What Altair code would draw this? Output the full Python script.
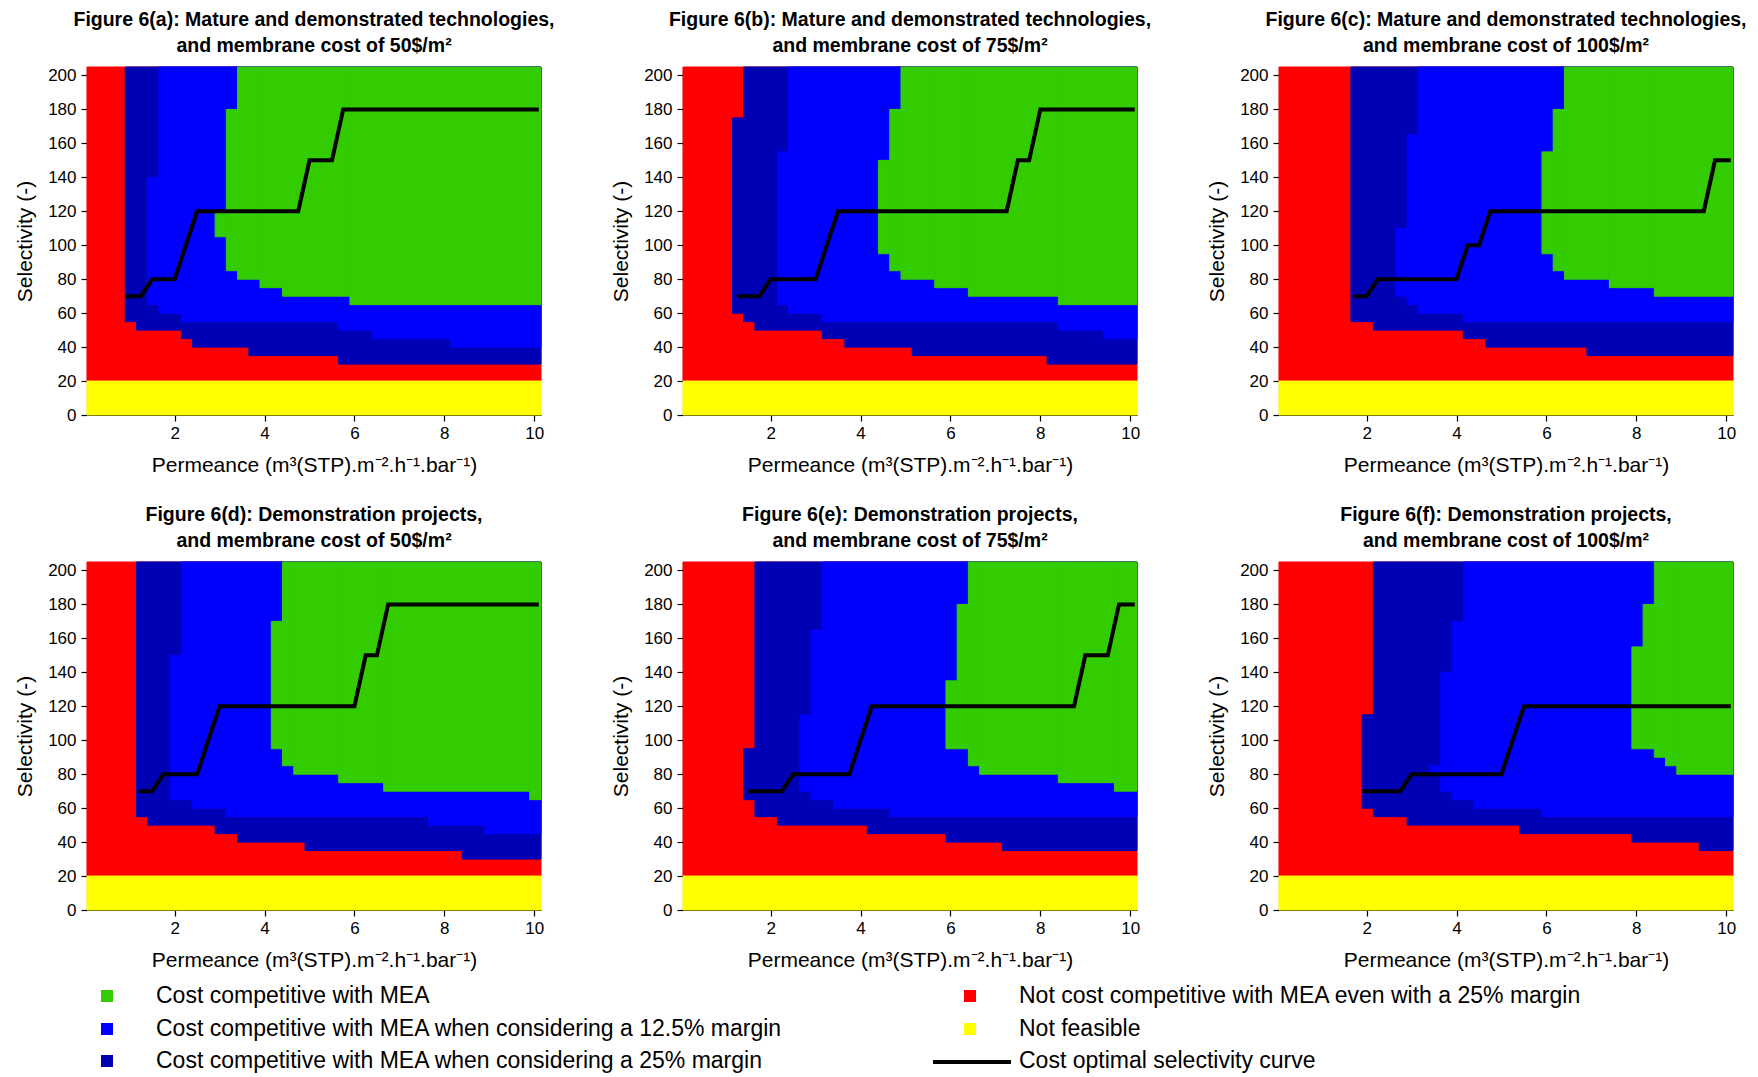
import altair as alt
import pandas as pd

# ---------------- axis ranges & colours ----------------
X_MIN, X_MAX = 0.05, 10.15
Y_MIN, Y_MAX = 0, 205
FEASIBLE_LIMIT = 20
X_TICKS = [2, 4, 6, 8, 10]
Y_TICKS = list(range(0, 201, 20))

RED = "#FF0000"
YELLOW = "#FFFF00"
DARK = "#0000B4"
BLUE = "#0000FF"
GREEN = "#33CC00"

# ---------------- panel titles ----------------
titles = {
    "a": ["Figure 6(a): Mature and demonstrated technologies,", "and membrane cost of 50$/m\u00b2"],
    "b": ["Figure 6(b): Mature and demonstrated technologies,", "and membrane cost of 75$/m\u00b2"],
    "c": ["Figure 6(c): Mature and demonstrated technologies,", "and membrane cost of 100$/m\u00b2"],
    "d": ["Figure 6(d): Demonstration projects,", "and membrane cost of 50$/m\u00b2"],
    "e": ["Figure 6(e): Demonstration projects,", "and membrane cost of 75$/m\u00b2"],
    "f": ["Figure 6(f): Demonstration projects,", "and membrane cost of 100$/m\u00b2"],
}

# Region boundaries: column edges (permeance), lower and upper selectivity of each column block.
# "dark" = everything that is not red (dark blue and better), "blue" = blue and better, "green".
a_dark_x = [0.90, 1.15, 2.15, 2.40, 3.65, 5.65, 10.15]
a_dark_lo = [55, 50, 45, 40, 35, 30]
a_dark_hi = [205, 205, 205, 205, 205, 205]
a_blue_x = [1.40, 1.65, 2.15, 5.65, 6.40, 8.15, 10.15]
a_blue_lo = [65, 60, 55, 50, 45, 40]
a_blue_hi = [140, 205, 205, 205, 205, 205]
a_green_x = [2.90, 3.15, 3.40, 3.90, 4.40, 5.90, 10.15]
a_green_lo = [105, 85, 80, 75, 70, 65]
a_green_hi = [120, 180, 205, 205, 205, 205]
a_line_x = [0.90, 1.25, 1.5, 2.0, 2.25, 2.5, 4.75, 5.0, 5.5, 5.75, 10.1]
a_line_y = [70, 70, 80, 80, 100, 120, 120, 150, 150, 180, 180]

b_dark_x = [1.15, 1.40, 1.65, 3.15, 3.65, 5.15, 8.15, 10.15]
b_dark_lo = [60, 55, 50, 45, 40, 35, 30]
b_dark_hi = [175, 205, 205, 205, 205, 205, 205]
b_blue_x = [2.15, 2.40, 3.15, 8.40, 9.40, 10.15]
b_blue_lo = [65, 60, 55, 50, 45]
b_blue_hi = [155, 205, 205, 205, 205]
b_green_x = [4.40, 4.65, 4.90, 5.65, 6.40, 8.40, 10.15]
b_green_lo = [95, 85, 80, 75, 70, 65]
b_green_hi = [150, 180, 205, 205, 205, 205]
b_line_x = [1.25, 1.75, 2.0, 3.0, 3.25, 3.5, 7.25, 7.5, 7.75, 8.0, 10.1]
b_line_y = [70, 70, 80, 80, 100, 120, 120, 150, 150, 180, 180]

c_dark_x = [1.65, 2.15, 4.15, 4.65, 6.90, 10.15]
c_dark_lo = [55, 50, 45, 40, 35]
c_dark_hi = [205, 205, 205, 205, 205]
c_blue_x = [2.65, 2.90, 3.15, 4.15, 10.15]
c_blue_lo = [70, 65, 60, 55]
c_blue_hi = [110, 165, 205, 205]
c_green_x = [5.90, 6.15, 6.40, 7.40, 8.40, 10.15]
c_green_lo = [95, 85, 80, 75, 70]
c_green_hi = [155, 180, 205, 205, 205]
c_line_x = [1.7, 2.0, 2.25, 4.0, 4.25, 4.5, 4.75, 9.5, 9.75, 10.1]
c_line_y = [70, 70, 80, 80, 100, 100, 120, 120, 150, 150]

d_dark_x = [1.15, 1.40, 2.90, 3.40, 4.90, 8.40, 10.15]
d_dark_lo = [55, 50, 45, 40, 35, 30]
d_dark_hi = [205, 205, 205, 205, 205, 205]
d_blue_x = [1.90, 2.15, 2.40, 3.15, 7.65, 8.90, 10.15]
d_blue_lo = [65, 65, 60, 55, 50, 45]
d_blue_hi = [150, 205, 205, 205, 205, 205]
d_green_x = [4.15, 4.40, 4.65, 5.65, 6.65, 9.90, 10.15]
d_green_lo = [95, 85, 80, 75, 70, 65]
d_green_hi = [170, 205, 205, 205, 205, 205]
d_line_x = [1.2, 1.5, 1.75, 2.5, 2.75, 3.0, 6.0, 6.25, 6.5, 6.75, 10.1]
d_line_y = [70, 70, 80, 80, 100, 120, 120, 150, 150, 180, 180]

e_dark_x = [1.40, 1.65, 2.15, 4.15, 5.90, 7.15, 10.15]
e_dark_lo = [65, 55, 50, 45, 40, 35]
e_dark_hi = [95, 205, 205, 205, 205, 205]
e_blue_x = [2.65, 2.90, 3.15, 3.40, 4.65, 10.15]
e_blue_lo = [70, 65, 65, 60, 55]
e_blue_hi = [115, 165, 205, 205, 205]
e_green_x = [5.90, 6.15, 6.40, 6.65, 8.40, 9.65, 10.15]
e_green_lo = [95, 95, 85, 80, 75, 70]
e_green_hi = [135, 180, 205, 205, 205, 205]
e_line_x = [1.5, 2.25, 2.5, 3.75, 4.0, 4.25, 8.75, 9.0, 9.5, 9.75, 10.1]
e_line_y = [70, 70, 80, 80, 100, 120, 120, 150, 150, 180, 180]

f_dark_x = [1.90, 2.15, 2.90, 5.40, 7.90, 9.40, 10.15]
f_dark_lo = [60, 55, 50, 45, 40, 35]
f_dark_hi = [115, 205, 205, 205, 205, 205]
f_blue_x = [3.40, 3.65, 3.90, 4.15, 4.40, 5.90, 10.15]
f_blue_lo = [80, 70, 65, 65, 60, 55]
f_blue_hi = [85, 140, 170, 205, 205, 205]
f_green_x = [7.90, 8.15, 8.40, 8.65, 8.90, 10.15]
f_green_lo = [95, 95, 90, 85, 80]
f_green_hi = [155, 180, 205, 205, 205]
f_line_x = [1.9, 2.75, 3.0, 5.0, 5.25, 5.5, 10.1]
f_line_y = [70, 70, 80, 80, 100, 120, 120]

legend_labels = [
    "Cost competitive with MEA",
    "Cost competitive with MEA when considering a 12.5% margin",
    "Cost competitive with MEA when considering a 25% margin",
    "Not cost competitive with MEA even with a 25% margin",
    "Not feasible",
    "Cost optimal selectivity curve",
]

G = globals()
FONT = "Liberation Sans"
W, H = 454, 348

xsc = alt.Scale(domain=[X_MIN, X_MAX], nice=False, zero=False)
ysc = alt.Scale(domain=[Y_MIN, Y_MAX], nice=False, zero=False)
X = alt.X("x:Q", scale=xsc,
          axis=alt.Axis(values=X_TICKS, title="Permeance (m\u00b3(STP).m\u207b\u00b2.h\u207b\u00b9.bar\u207b\u00b9)"))
Y = alt.Y("y:Q", scale=ysc, axis=alt.Axis(values=Y_TICKS, title="Selectivity (-)"))


def blocks(xs, lo, hi):
    return pd.DataFrame({"x": xs[:-1], "x2": xs[1:], "y": lo, "y2": hi})


def rect_layer(df, color):
    return alt.Chart(df).mark_rect(color=color, stroke=color, strokeWidth=1).encode(
        x=X, x2="x2:Q", y=Y, y2="y2:Q")


def legend_layers():
    # legend drawn below panel (d); positions in pixels relative to that panel
    sym_colors = [GREEN, BLUE, DARK, RED, YELLOW]
    sym_x = [20, 20, 20, 883, 883]
    rows = [434, 467, 499]
    sym_y = [rows[0], rows[1], rows[2], rows[0], rows[1]]
    txt_x = [69, 69, 69, 932, 932, 932]
    txt_y = [rows[0], rows[1], rows[2], rows[0], rows[1], rows[2]]
    out = []
    one = pd.DataFrame({"v": [0]})
    for c, sx, sy in zip(sym_colors, sym_x, sym_y):
        out.append(alt.Chart(one).mark_square(color=c, size=144, opacity=1).encode(
            x=alt.value(sx), y=alt.value(sy)))
    for lab, tx, ty in zip(legend_labels, txt_x, txt_y):
        out.append(alt.Chart(pd.DataFrame({"t": [lab]})).mark_text(
            align="left", baseline="middle", fontSize=23, font=FONT, color="black").encode(
            x=alt.value(tx), y=alt.value(ty), text="t:N"))
    out.append(alt.Chart(one).mark_rule(color="black", strokeWidth=4).encode(
        x=alt.value(846), x2=alt.value(924), y=alt.value(rows[2] + 1)))
    return out


def panel(k):
    red = rect_layer(pd.DataFrame({"x": [X_MIN], "x2": [X_MAX], "y": [FEASIBLE_LIMIT], "y2": [Y_MAX]}), RED)
    yel = rect_layer(pd.DataFrame({"x": [X_MIN], "x2": [X_MAX], "y": [Y_MIN], "y2": [FEASIBLE_LIMIT]}), YELLOW)
    dark = rect_layer(blocks(G[k + "_dark_x"], G[k + "_dark_lo"], G[k + "_dark_hi"]), DARK)
    blue = rect_layer(blocks(G[k + "_blue_x"], G[k + "_blue_lo"], G[k + "_blue_hi"]), BLUE)
    green = rect_layer(blocks(G[k + "_green_x"], G[k + "_green_lo"], G[k + "_green_hi"]), GREEN)
    ldf = pd.DataFrame({"x": G[k + "_line_x"], "y": G[k + "_line_y"]})
    ldf["i"] = range(len(ldf))
    line = alt.Chart(ldf).mark_line(color="black", strokeWidth=4).encode(x=X, y=Y, order="i:Q")
    layers = [red, yel, dark, blue, green, line]
    if k == "d":
        layers += legend_layers()
    return alt.layer(*layers).properties(
        width=W, height=H,
        title=alt.TitleParams(text=titles[k][0], subtitle=titles[k][1],
                              fontSize=19.5, font=FONT, fontWeight="bold", color="black",
                              subtitleFontSize=19.5, subtitleFont=FONT, subtitleFontWeight="bold",
                              subtitleColor="black", subtitlePadding=6,
                              anchor="middle", offset=10))


chart = alt.concat(
    *[panel(k) for k in "abcdef"], columns=3,
    spacing={"row": 147, "column": 142}, bounds="flush",
).properties(
    padding={"left": 6, "top": 2, "right": 0, "bottom": 0}
).configure_view(stroke=None).configure_axis(
    grid=False, labelFont=FONT, labelFontSize=17, labelColor="black",
    titleFont=FONT, titleFontSize=21, titleFontWeight="normal", titleColor="black",
    domainColor="black", tickColor="black", tickSize=6, domainWidth=1.2, tickWidth=1.2,
).configure_axisX(titlePadding=13, labelPadding=4).configure_axisY(titlePadding=12, labelPadding=5)

chart.save("out.html", embed_options={"renderer": "svg", "actions": False})
